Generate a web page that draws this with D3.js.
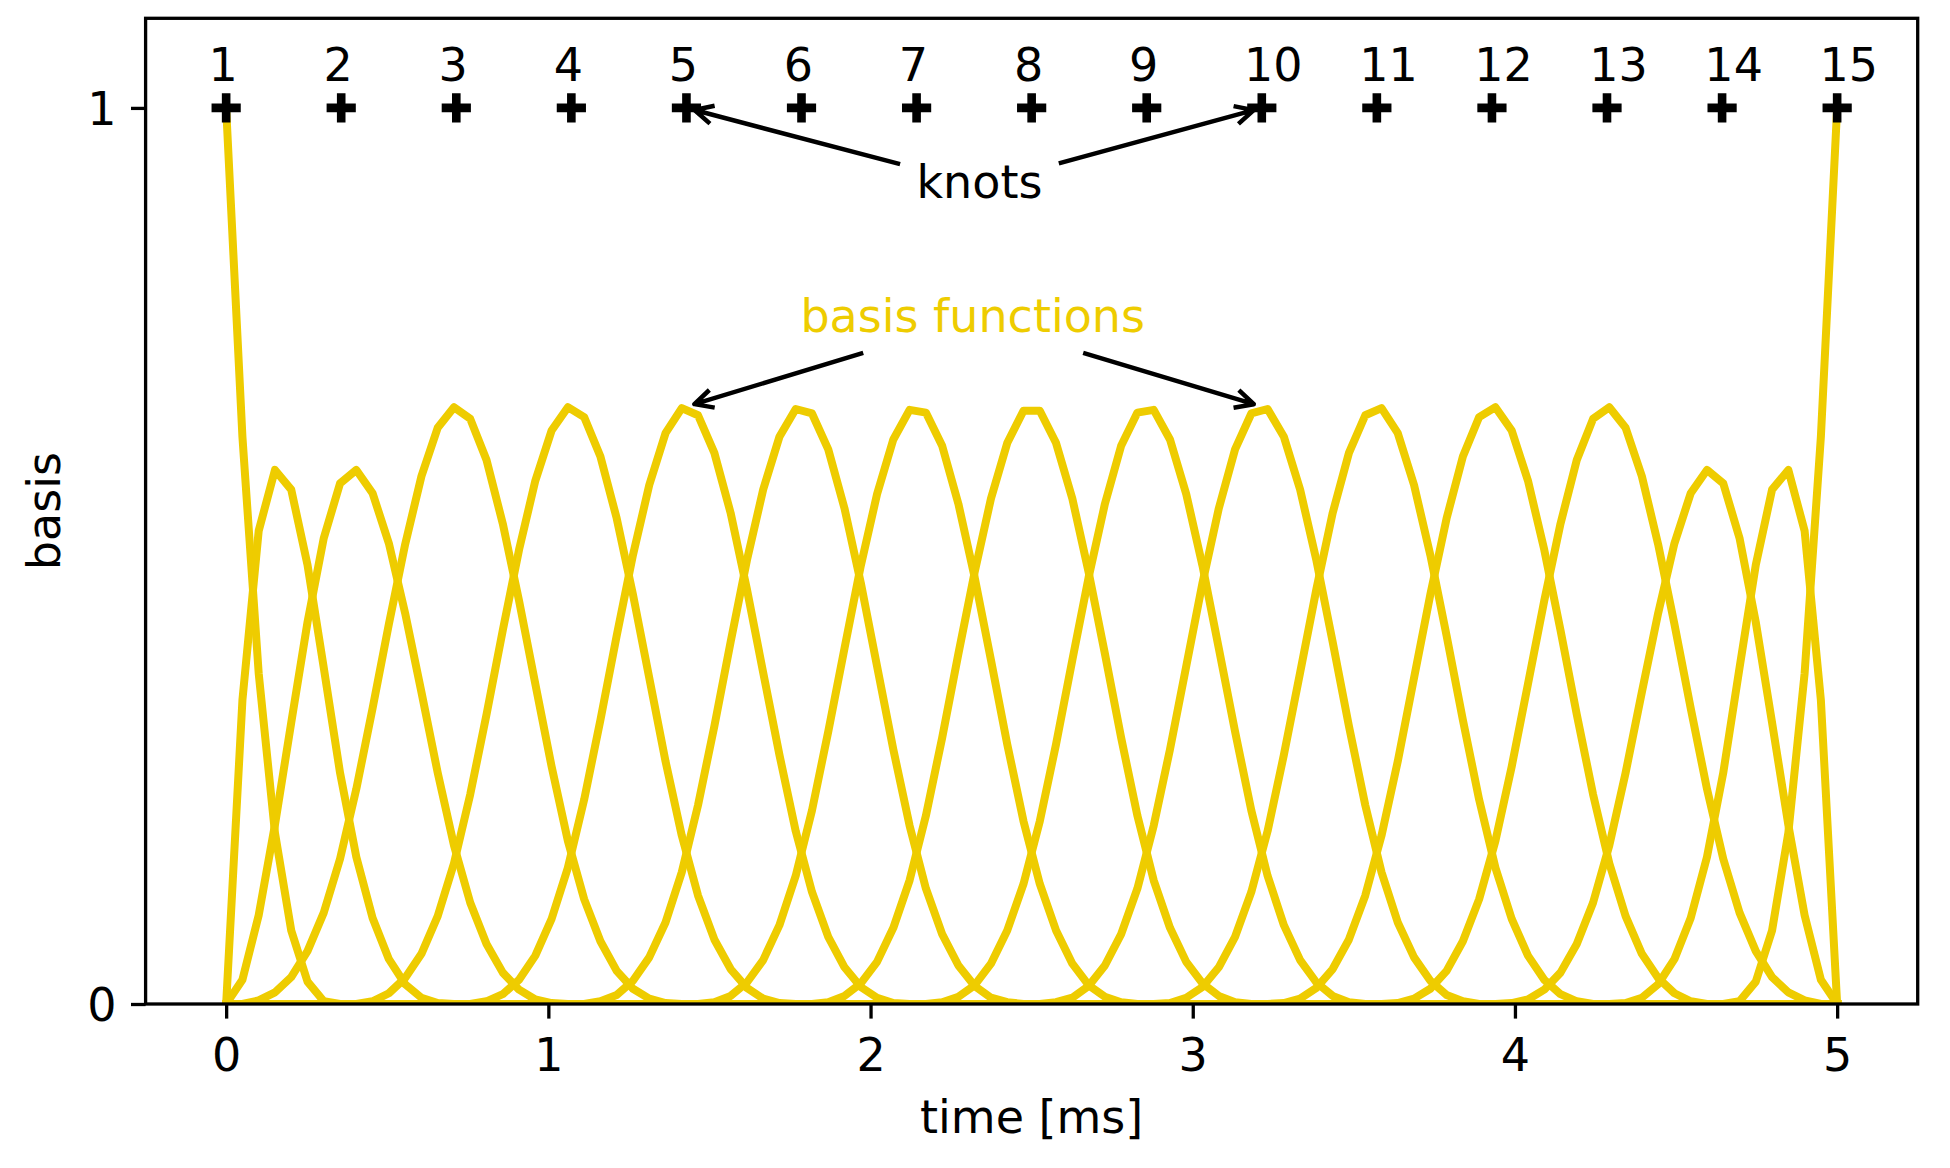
<!DOCTYPE html>
<html><head><meta charset="utf-8">
<script src="https://cdn.jsdelivr.net/npm/d3@7"></script>
<style>body{margin:0;background:#fff}</style>
</head><body><svg id="chart" width="1950" height="1168"></svg>
<script>
// ---------- data ----------
const time = [0,0.0505,0.101,0.1515,0.202,0.2525,0.303,0.3535,0.404,0.4545,
0.5051,0.5556,0.6061,0.6566,0.7071,0.7576,0.8081,0.8586,0.9091,0.9596,
1.0101,1.0606,1.1111,1.1616,1.2121,1.2626,1.3131,1.3636,1.4141,1.4646,
1.5152,1.5657,1.6162,1.6667,1.7172,1.7677,1.8182,1.8687,1.9192,1.9697,
2.0202,2.0707,2.1212,2.1717,2.2222,2.2727,2.3232,2.3737,2.4242,2.4747,
2.5253,2.5758,2.6263,2.6768,2.7273,2.7778,2.8283,2.8788,2.9293,2.9798,
3.0303,3.0808,3.1313,3.1818,3.2323,3.2828,3.3333,3.3838,3.4343,3.4848,
3.5354,3.5859,3.6364,3.6869,3.7374,3.7879,3.8384,3.8889,3.9394,3.9899,
4.0404,4.0909,4.1414,4.1919,4.2424,4.2929,4.3434,4.3939,4.4444,4.4949,
4.5455,4.596,4.6465,4.697,4.7475,4.798,4.8485,4.899,4.9495,5];

const basisValues = [
[1,.633,.369,.191,.082,.025,.003,0,0,0, 0,0,0,0,0,0,0,0,0,0, 0,0,0,0,0,0,0,0,0,0, 0,0,0,0,0,0,0,0,0,0, 0,0,0,0,0,0,0,0,0,0,
 0,0,0,0,0,0,0,0,0,0, 0,0,0,0,0,0,0,0,0,0, 0,0,0,0,0,0,0,0,0,0, 0,0,0,0,0,0,0,0,0,0, 0,0,0,0,0,0,0,0,0,0],
[0,.339,.528,.596,.574,.490,.375,.258,.164,.096, .050,.022,.007,.001,0,0,0,0,0,0, 0,0,0,0,0,0,0,0,0,0, 0,0,0,0,0,0,0,0,0,0, 0,0,0,0,0,0,0,0,0,0,
 0,0,0,0,0,0,0,0,0,0, 0,0,0,0,0,0,0,0,0,0, 0,0,0,0,0,0,0,0,0,0, 0,0,0,0,0,0,0,0,0,0, 0,0,0,0,0,0,0,0,0,0],
[0,.027,.099,.200,.314,.426,.520,.581,.596,.570, .514,.436,.348,.258,.177,.113,.067,.035,.016,.005, .001,0,0,0,0,0,0,0,0,0, 0,0,0,0,0,0,0,0,0,0, 0,0,0,0,0,0,0,0,0,0,
 0,0,0,0,0,0,0,0,0,0, 0,0,0,0,0,0,0,0,0,0, 0,0,0,0,0,0,0,0,0,0, 0,0,0,0,0,0,0,0,0,0, 0,0,0,0,0,0,0,0,0,0],
[0,0,.004,.013,.030,.059,.102,.162,.240,.330, .424,.513,.589,.643,.666,.653,.607,.536,.450,.357, .265,.182,.117,.070,.037,.017,.006,.001,0,0, 0,0,0,0,0,0,0,0,0,0, 0,0,0,0,0,0,0,0,0,0,
 0,0,0,0,0,0,0,0,0,0, 0,0,0,0,0,0,0,0,0,0, 0,0,0,0,0,0,0,0,0,0, 0,0,0,0,0,0,0,0,0,0, 0,0,0,0,0,0,0,0,0,0],
[0,0,0,0,0,0,0,0,0,.003, .012,.029,.056,.098,.157,.234,.323,.417,.507,.584, .640,.666,.655,.611,.542,.457,.364,.271,.188,.121, .072,.039,.018,.006,.001,0,0,0,0,0, 0,0,0,0,0,0,0,0,0,0,
 0,0,0,0,0,0,0,0,0,0, 0,0,0,0,0,0,0,0,0,0, 0,0,0,0,0,0,0,0,0,0, 0,0,0,0,0,0,0,0,0,0, 0,0,0,0,0,0,0,0,0,0],
[0,0,0,0,0,0,0,0,0,0, 0,0,0,0,0,0,.003,.011,.027,.054, .095,.152,.228,.317,.411,.501,.579,.637,.665,.657, .615,.548,.463,.370,.278,.193,.125,.075,.041,.019, .007,.001,0,0,0,0,0,0,0,0,
 0,0,0,0,0,0,0,0,0,0, 0,0,0,0,0,0,0,0,0,0, 0,0,0,0,0,0,0,0,0,0, 0,0,0,0,0,0,0,0,0,0, 0,0,0,0,0,0,0,0,0,0],
[0,0,0,0,0,0,0,0,0,0, 0,0,0,0,0,0,0,0,0,0, 0,0,0,.003,.010,.026,.052,.091,.147,.222, .310,.404,.495,.574,.633,.664,.659,.619,.553,.470, .377,.284,.199,.129,.078,.043,.020,.007,.002,0,
 0,0,0,0,0,0,0,0,0,0, 0,0,0,0,0,0,0,0,0,0, 0,0,0,0,0,0,0,0,0,0, 0,0,0,0,0,0,0,0,0,0, 0,0,0,0,0,0,0,0,0,0],
[0,0,0,0,0,0,0,0,0,0, 0,0,0,0,0,0,0,0,0,0, 0,0,0,0,0,0,0,0,0,0, .002,.009,.024,.049,.088,.143,.216,.304,.397,.489, .569,.630,.663,.660,.623,.558,.476,.384,.290,.204,
 .134,.082,.045,.021,.008,.002,0,0,0,0, 0,0,0,0,0,0,0,0,0,0, 0,0,0,0,0,0,0,0,0,0, 0,0,0,0,0,0,0,0,0,0, 0,0,0,0,0,0,0,0,0,0],
[0,0,0,0,0,0,0,0,0,0, 0,0,0,0,0,0,0,0,0,0, 0,0,0,0,0,0,0,0,0,0, 0,0,0,0,0,0,0,.002,.009,.023, .047,.085,.138,.210,.297,.391,.482,.564,.626,.662,
 .662,.626,.564,.482,.391,.297,.210,.138,.085,.047, .023,.009,.002,0,0,0,0,0,0,0, 0,0,0,0,0,0,0,0,0,0, 0,0,0,0,0,0,0,0,0,0, 0,0,0,0,0,0,0,0,0,0],
[0,0,0,0,0,0,0,0,0,0, 0,0,0,0,0,0,0,0,0,0, 0,0,0,0,0,0,0,0,0,0, 0,0,0,0,0,0,0,0,0,0, 0,0,0,0,.002,.008,.021,.045,.082,.134,
 .204,.290,.384,.476,.558,.623,.660,.663,.630,.569, .489,.397,.304,.216,.143,.088,.049,.024,.009,.002, 0,0,0,0,0,0,0,0,0,0, 0,0,0,0,0,0,0,0,0,0, 0,0,0,0,0,0,0,0,0,0],
[0,0,0,0,0,0,0,0,0,0, 0,0,0,0,0,0,0,0,0,0, 0,0,0,0,0,0,0,0,0,0, 0,0,0,0,0,0,0,0,0,0, 0,0,0,0,0,0,0,0,0,0,
 0,.002,.007,.020,.043,.078,.129,.199,.284,.377, .470,.553,.619,.659,.664,.633,.574,.495,.404,.310, .222,.147,.091,.052,.026,.010,.003,0,0,0, 0,0,0,0,0,0,0,0,0,0, 0,0,0,0,0,0,0,0,0,0],
[0,0,0,0,0,0,0,0,0,0, 0,0,0,0,0,0,0,0,0,0, 0,0,0,0,0,0,0,0,0,0, 0,0,0,0,0,0,0,0,0,0, 0,0,0,0,0,0,0,0,0,0,
 0,0,0,0,0,0,0,0,.001,.007, .019,.041,.075,.125,.193,.278,.370,.463,.548,.615, .657,.665,.637,.579,.501,.411,.317,.228,.152,.095, .054,.027,.011,.003,0,0,0,0,0,0, 0,0,0,0,0,0,0,0,0,0],
[0,0,0,0,0,0,0,0,0,0, 0,0,0,0,0,0,0,0,0,0, 0,0,0,0,0,0,0,0,0,0, 0,0,0,0,0,0,0,0,0,0, 0,0,0,0,0,0,0,0,0,0,
 0,0,0,0,0,0,0,0,0,0, 0,0,0,0,0,.001,.006,.018,.039,.072, .121,.188,.271,.364,.457,.542,.611,.655,.666,.640, .584,.507,.417,.323,.234,.157,.098,.056,.029,.012, .003,0,0,0,0,0,0,0,0,0],
[0,0,0,0,0,0,0,0,0,0, 0,0,0,0,0,0,0,0,0,0, 0,0,0,0,0,0,0,0,0,0, 0,0,0,0,0,0,0,0,0,0, 0,0,0,0,0,0,0,0,0,0,
 0,0,0,0,0,0,0,0,0,0, 0,0,0,0,0,0,0,0,0,0, 0,0,.001,.006,.017,.037,.070,.117,.182,.265, .357,.450,.536,.607,.653,.666,.643,.589,.513,.424, .330,.240,.162,.102,.059,.030,.013,.004,0,0],
[0,0,0,0,0,0,0,0,0,0, 0,0,0,0,0,0,0,0,0,0, 0,0,0,0,0,0,0,0,0,0, 0,0,0,0,0,0,0,0,0,0, 0,0,0,0,0,0,0,0,0,0,
 0,0,0,0,0,0,0,0,0,0, 0,0,0,0,0,0,0,0,0,0, 0,0,0,0,0,0,0,0,0,.001, .005,.016,.035,.067,.113,.177,.258,.348,.436,.514, .570,.596,.581,.520,.426,.314,.200,.099,.027,0],
[0,0,0,0,0,0,0,0,0,0, 0,0,0,0,0,0,0,0,0,0, 0,0,0,0,0,0,0,0,0,0, 0,0,0,0,0,0,0,0,0,0, 0,0,0,0,0,0,0,0,0,0,
 0,0,0,0,0,0,0,0,0,0, 0,0,0,0,0,0,0,0,0,0, 0,0,0,0,0,0,0,0,0,0, 0,0,0,0,0,0,.001,.007,.022,.050, .096,.164,.258,.375,.490,.574,.596,.528,.339,0],
[0,0,0,0,0,0,0,0,0,0, 0,0,0,0,0,0,0,0,0,0, 0,0,0,0,0,0,0,0,0,0, 0,0,0,0,0,0,0,0,0,0, 0,0,0,0,0,0,0,0,0,0,
 0,0,0,0,0,0,0,0,0,0, 0,0,0,0,0,0,0,0,0,0, 0,0,0,0,0,0,0,0,0,0, 0,0,0,0,0,0,0,0,0,0, 0,0,0,.003,.025,.082,.191,.369,.633,1]
];

const knots = [0,0.3571,0.7143,1.0714,1.4286,1.7857,2.1429,2.5,2.8571,3.2143,3.5714,3.9286,4.2857,4.6429,5];
const knotLabels = ["1","2","3","4","5","6","7","8","9","10","11","12","13","14","15"];
const knotValue = 1;
const knotLabelValue = 1.03;
const knotLabelShift = -0.055;
const xTicks = [0,1,2,3,4,5];
const yTicks = [0,1];
const xDomain = [-0.25,5.25];
const yDomain = [0,1.1];
const xLabel = "time [ms]";
const yLabel = "basis";
const knotsNoteText = "knots";
const knotsNotePos = [2.338,0.9];
const knotsNoteTargets = [[1.4286,1],[3.2143,1]];
const basisNoteText = "basis functions";
const basisNotePos = [2.317,0.75];
const basisNoteTargets = [[1.4286,0.6667],[3.2143,0.6667]];

// ---------- style ----------
const YELLOW = "#eecc00";
const FONT = "'DejaVu Sans', sans-serif";
const FS = 46;
const W = 1950, H = 1168;
const M = {l:145.6, t:18.3, r:1917.7, b:1004};

const svg = d3.select("#chart");
svg.append("rect").attr("width",W).attr("height",H).attr("fill","#fff");
const x = d3.scaleLinear().domain(xDomain).range([M.l,M.r]);
const y = d3.scaleLinear().domain(yDomain).range([M.b,M.t]);

svg.append("defs").append("clipPath").attr("id","clip")
  .append("rect").attr("x",M.l).attr("y",M.t).attr("width",M.r-M.l).attr("height",M.b-M.t);

const lineGen = d3.line().x((d,i)=>x(time[i])).y(d=>y(d));
const gl = svg.append("g").attr("clip-path","url(#clip)");
basisValues.forEach(s=>{
  gl.append("path").attr("d",lineGen(s)).attr("fill","none")
    .attr("stroke",YELLOW).attr("stroke-width",8)
    .attr("stroke-linejoin","round").attr("stroke-linecap","square");
});

// knots markers
const gk = svg.append("g");
knots.forEach((k,i)=>{
  const cx = x(k), cy = y(knotValue), h = 14.6;
  gk.append("path").attr("d",`M${cx-h},${cy}H${cx+h}M${cx},${cy-h}V${cy+h}`)
    .attr("stroke","#000").attr("stroke-width",8.6).attr("fill","none");
  gk.append("text").attr("x",x(k+knotLabelShift)).attr("y",y(knotLabelValue))
    .attr("font-family",FONT).attr("font-size",FS).attr("fill","#000")
    .text(knotLabels[i]);
});

// spines
svg.append("rect").attr("x",M.l).attr("y",M.t).attr("width",M.r-M.l).attr("height",M.b-M.t)
  .attr("fill","none").attr("stroke","#000").attr("stroke-width",3.3);

// axes
const ax = svg.append("g").attr("transform",`translate(0,${M.b})`)
  .call(d3.axisBottom(x).tickValues(xTicks).tickFormat(d3.format("d")).tickSize(14.6).tickPadding(19.7));
const ay = svg.append("g").attr("transform",`translate(${M.l},0)`)
  .call(d3.axisLeft(y).tickValues(yTicks).tickFormat(d3.format("d")).tickSize(14.6).tickPadding(14.6));
[ax,ay].forEach(a=>{
  a.select(".domain").remove();
  a.selectAll(".tick line").attr("stroke","#000").attr("stroke-width",3.3);
  a.selectAll(".tick text").attr("font-family",FONT).attr("font-size",FS).attr("fill","#000");
  a.attr("font-family",FONT).attr("font-size",FS);
});
ay.selectAll(".tick text").attr("dy","0.365em");

svg.append("text").attr("x",(M.l+M.r)/2).attr("y",1133).attr("text-anchor","middle")
  .attr("font-family",FONT).attr("font-size",FS).attr("fill","#000").text(xLabel);
svg.append("text").attr("transform",`translate(60,${(M.t+M.b)/2}) rotate(-90)`).attr("text-anchor","middle")
  .attr("font-family",FONT).attr("font-size",FS).attr("fill","#000").text(yLabel);

// annotations
function annotate(txt, pos, targets, color){
  const cx = x(pos[0]), by = y(pos[1]);
  const t = svg.append("text").attr("x",cx).attr("y",by).attr("text-anchor","middle")
    .attr("font-family",FONT).attr("font-size",FS).attr("fill",color).text(txt);
  const w = t.node().getComputedTextLength();
  const pad = 8.33, shrink = 8.33;
  const top = by - 0.76*FS, bot = by + 0.22*FS;
  const cy = (top+bot)/2;
  const hw = w/2 + pad, hh = (bot-top)/2 + pad;
  targets.forEach(tg=>{
    const px = x(tg[0]), py = y(tg[1]);
    const dx = px-cx, dy = py-cy, L = Math.hypot(dx,dy);
    const ux = dx/L, uy = dy/L;
    const tt = Math.min(hw/Math.abs(dx), hh/Math.abs(dy));
    const sx = cx + dx*tt + ux*shrink, sy = cy + dy*tt + uy*shrink;
    const ex = px - ux*shrink, ey = py - uy*shrink;
    const hl = 0.4*FS, hwid = 0.2*FS;
    const b1x = ex - ux*hl - uy*hwid, b1y = ey - uy*hl + ux*hwid;
    const b2x = ex - ux*hl + uy*hwid, b2y = ey - uy*hl - ux*hwid;
    svg.append("path").attr("d",`M${sx},${sy}L${ex},${ey}M${b1x},${b1y}L${ex},${ey}L${b2x},${b2y}`)
      .attr("fill","none").attr("stroke","#000").attr("stroke-width",4.5)
      .attr("stroke-linejoin","round").attr("stroke-linecap","butt");
  });
}
annotate(knotsNoteText, knotsNotePos, knotsNoteTargets, "#000");
annotate(basisNoteText, basisNotePos, basisNoteTargets, YELLOW);
</script></body></html>
